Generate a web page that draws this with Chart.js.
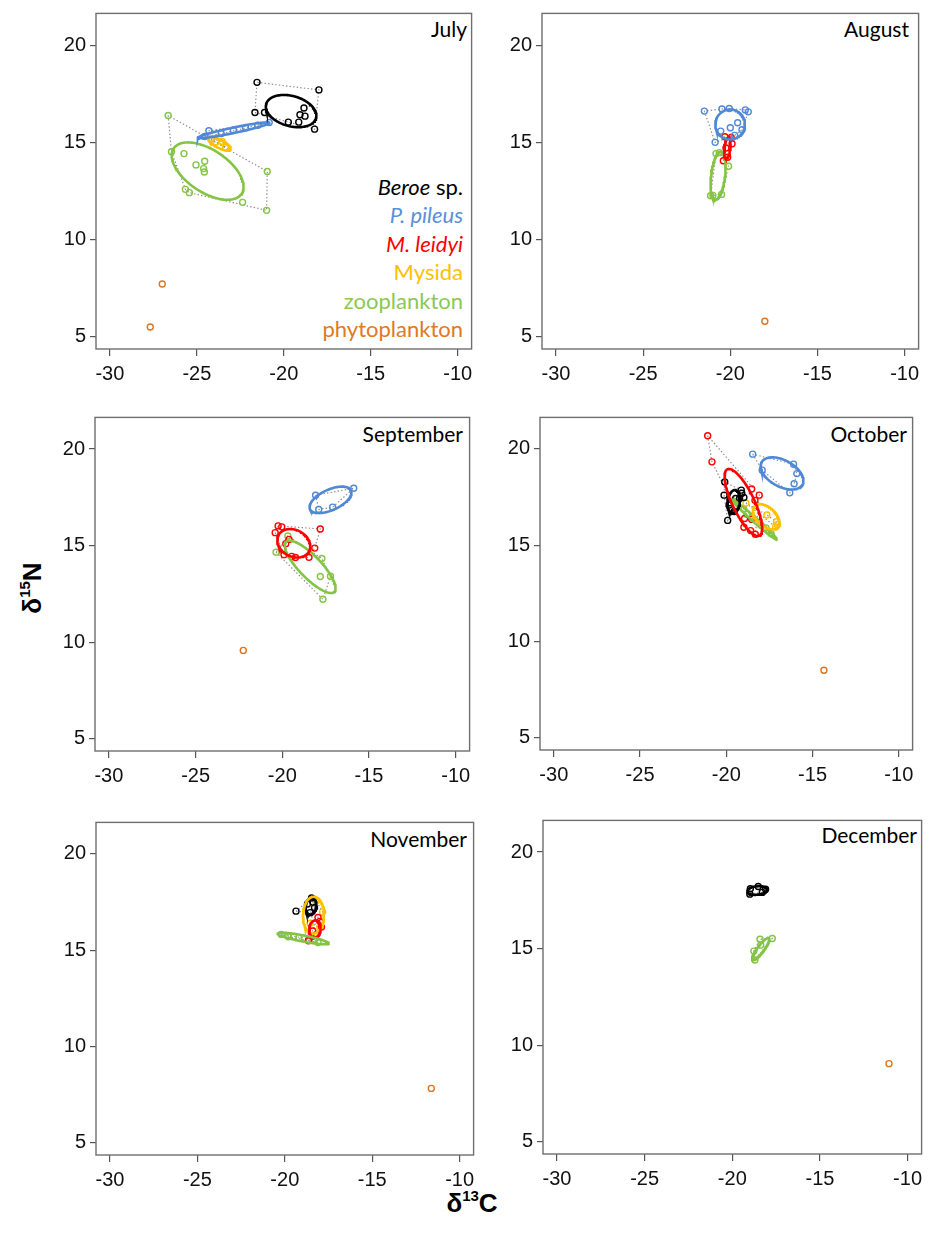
<!DOCTYPE html>
<html>
<head>
<meta charset="utf-8">
<script src="https://cdn.jsdelivr.net/npm/chart.js@4.4.0/dist/chart.umd.min.js"></script>
<style>
  body { margin: 0; background: #fff; width: 933px; height: 1235px; position: relative; overflow: hidden; font-family: "Liberation Sans", Arial, sans-serif; }
  canvas { position: absolute; }
  .month { position: absolute; font-family: Lato, sans-serif; font-size: 21px; line-height: 24px; color: #000; white-space: nowrap; }
  #legend { position: absolute; right: 470px; top: 173px; font-family: Lato, sans-serif; font-size: 22px; line-height: 28.4px; text-align: right; white-space: nowrap; }
  .axtitle { position: absolute; width: 120px; height: 34px; line-height: 34px; text-align: center; font-weight: bold; font-size: 26px; color: #000; }
  .axtitle sup { font-size: 15px; vertical-align: 11px; line-height: 0; }
</style>
</head>
<body>
<div class="month" style="right:466px; top:17px">July</div>
<div class="month" style="right:24px; top:17px">August</div>
<div class="month" style="right:470px; top:422px">September</div>
<div class="month" style="right:26px; top:422px">October</div>
<div class="month" style="right:466px; top:827px">November</div>
<div class="month" style="right:16px; top:823px">December</div>
<div id="legend">
  <div style="color:#000"><i>Beroe</i> sp.</div>
  <div style="color:#5B8FD8"><i>P. pileus</i></div>
  <div style="color:#FF0000"><i>M. leidyi</i></div>
  <div style="color:#FFC000">Mysida</div>
  <div style="color:#8CC850">zooplankton</div>
  <div style="color:#DE7A22">phytoplankton</div>
</div>
<div class="axtitle" style="left:-28px; top:571px; transform:rotate(-90deg)">&delta;<sup>15</sup>N</div>
<div class="axtitle" style="left:412px; top:1186px">&delta;<sup>13</sup>C</div>

<script>
// axes
const xTicks = [-30, -25, -20, -15, -10];
const yTicks = [5, 10, 15, 20];
const xRange = [-30.8, -9.2];
const yRange = [4.36, 21.64];
const months = ['July', 'August', 'September', 'October', 'November', 'December'];

// July  (d13C, d15N)
const julBeroe = [[-21.54,18.09],[-17.98,17.70],[-21.66,16.54],[-21.11,16.54],[-18.84,16.77],[-19.07,16.42],[-18.78,16.35],[-19.74,16.04],[-19.14,16.04],[-18.23,15.68]];
const julPileus = [[-24.31,15.60],[-24.55,15.30],[-23.6,15.45],[-22.9,15.62],[-22.2,15.75],[-21.5,15.88],[-20.84,16.02]];
const julMysida = [[-24.2,15.19],[-23.9,15.02],[-23.54,15.05],[-23.35,14.73]];
const julZoo = [[-26.65,16.38],[-26.46,14.52],[-25.74,14.42],[-25.05,13.84],[-24.55,14.03],[-24.61,13.65],[-24.57,13.47],[-25.66,12.58],[-25.43,12.41],[-22.37,11.91],[-20.95,13.50],[-20.99,11.50]];
const julPhyto = [[-26.99,7.71],[-27.68,5.49]];
// standard ellipses: group, centre x, centre y, semi-major, semi-minor, angle (deg)
const julSEA = [['beroe',-19.58,16.61,1.48,0.78,-13],['pileus',-22.89,15.62,2.09,0.14,10.6],['mysida',-23.70,14.93,0.7,0.22,-25],['zoo',-24.38,13.52,2.28,1.12,-29]];

// August
const augPileus = [[-21.49,16.61],[-20.48,16.72],[-20.06,16.74],[-19.14,16.67],[-18.97,16.57],[-19.58,16.01],[-20.0,15.75],[-20.55,15.58],[-19.33,15.65],[-19.75,15.36],[-20.87,15.0]];
const augLeidyi = [[-20.31,15.29],[-19.95,15.25],[-19.9,14.93],[-20.25,14.71],[-20.15,14.23],[-20.4,14.05]];
const augZoo = [[-20.82,14.42],[-20.63,14.47],[-20.1,13.77],[-21.13,12.25],[-21.0,12.27],[-20.5,12.32]];
const augPhyto = [[-18.02,5.79]];
const augSEA = [['pileus',-20.01,15.92,0.85,0.77,0],['leidyi',-20.17,14.72,0.56,0.17,82],['zoo',-20.70,13.29,1.25,0.4,82]];

// September
const sepPileus = [[-18.08,17.61],[-15.88,17.97],[-17.90,16.87],[-17.10,16.99]];
const sepLeidyi = [[-20.24,16.02],[-20.03,15.97],[-20.41,15.67],[-17.81,15.86],[-19.61,15.32],[-19.8,15.1],[-18.13,14.87],[-19.9,14.53],[-19.45,14.44],[-19.24,14.38],[-18.46,14.39]];
const sepZoo = [[-19.68,15.50],[-20.36,14.66],[-17.72,14.33],[-17.81,13.40],[-17.22,13.41],[-17.66,12.22]];
const sepPhyto = [[-22.25,9.57]];
const sepSEA = [['pileus',-17.22,17.37,1.28,0.54,21.4],['leidyi',-19.34,15.12,0.98,0.7,-20],['zoo',-18.39,13.90,1.9,0.6,-42.3]];

// October
const octBeroe = [[-20.09,18.28],[-20.13,17.60],[-19.92,16.29],[-19.13,17.86],[-18.98,17.48],[-19.23,17.43],[-19.84,17.09],[-19.46,17.43],[-19.75,16.91],[-19.55,16.75],[-19.1,17.7]];
const octPileus = [[-18.47,19.73],[-17.92,18.90],[-16.10,19.21],[-15.91,18.72],[-16.07,18.19],[-16.32,17.72]];
const octLeidyi = [[-21.08,20.69],[-20.83,19.33],[-18.53,17.92],[-18.09,17.60],[-18.34,17.33],[-18.53,16.34],[-18.94,16.39],[-18.98,15.93],[-18.59,15.76],[-18.32,15.57]];
const octMysida = [[-18.86,17.19],[-17.65,16.57],[-17.09,16.22],[-17.03,16.08],[-17.14,15.95]];
const octZoo = [[-19.6,17.3],[-19.0,16.9],[-18.8,16.6],[-18.5,16.45],[-18.0,16.05],[-17.7,15.9],[-17.4,15.6]];
const octPhyto = [[-14.34,8.50]];
const octSEA = [['pileus',-16.77,18.73,1.32,0.70,-24.1],['leidyi',-19.01,17.22,1.96,0.62,-61.2],['beroe',-19.57,17.27,0.6,0.36,80],['mysida',-17.69,16.48,0.87,0.51,-35.6],['zoo',-18.37,16.33,1.64,0.12,-38.6]];

// November
const novBeroe = [[-19.36,17.03],[-18.47,17.71],[-18.7,17.4],[-18.3,17.2],[-18.55,16.95],[-18.4,17.5]];
const novLeidyi = [[-18.65,15.49],[-18.1,16.7],[-17.9,16.2],[-18.4,16.0],[-18.2,15.8],[-18.0,16.5]];
const novMysida = [[-17.84,16.99],[-18.2,17.55],[-18.55,16.4],[-18.0,16.2]];
const novZoo = [[-20.2,15.82],[-19.8,15.7],[-19.5,15.72],[-18.9,15.62],[-18.3,15.55],[-18.1,15.4]];
const novPhyto = [[-11.62,7.82]];
const novSEA = [['zoo',-18.95,15.61,1.48,0.16,-10],['leidyi',-18.28,16.1,0.45,0.33,85],['mysida',-18.36,16.82,0.96,0.6,88],['beroe',-18.5,17.3,0.45,0.3,80]];

// December
const decBeroe = [[-19.0,17.82],[-18.52,18.22],[-18.1,18.08],[-18.97,18.1],[-18.29,17.91]];
const decZoo = [[-18.71,14.41],[-18.42,15.48],[-17.72,15.52],[-18.38,15.18],[-18.77,14.87]];
const decPhyto = [[-11.06,9.04]];
const decSEA = [['beroe',-18.58,18.01,0.57,0.22,5],['zoo',-18.38,14.98,0.74,0.18,50]];

const groupColors = { beroe: '#000000', pileus: '#4F88D6', leidyi: '#FF0000', mysida: '#FFC000', zoo: '#84C444', phyto: '#DC7420' };

// plot boxes on the page: left, top, right, bottom
const panels = [
  { box: [96, 11, 473, 349], groups: { beroe: julBeroe, pileus: julPileus, mysida: julMysida, zoo: julZoo, phyto: julPhyto }, sea: julSEA },
  { box: [542, 11, 920, 349], groups: { pileus: augPileus, leidyi: augLeidyi, zoo: augZoo, phyto: augPhyto }, sea: augSEA },
  { box: [95, 415, 471, 751], groups: { pileus: sepPileus, leidyi: sepLeidyi, zoo: sepZoo, phyto: sepPhyto }, sea: sepSEA },
  { box: [540, 415, 914, 750], groups: { beroe: octBeroe, pileus: octPileus, leidyi: octLeidyi, mysida: octMysida, zoo: octZoo, phyto: octPhyto }, sea: octSEA },
  { box: [96, 820, 475, 1155], groups: { beroe: novBeroe, leidyi: novLeidyi, mysida: novMysida, zoo: novZoo, phyto: novPhyto }, sea: novSEA },
  { box: [543, 818, 923, 1154], groups: { beroe: decBeroe, zoo: decZoo, phyto: decPhyto }, sea: decSEA }
];

// outline of a standard ellipse
function ellipsePath(cx, cy, a, b, deg) {
  const t = deg * Math.PI / 180, pts = [];
  for (let i = 0; i <= 120; i++) {
    const s = i / 120 * 2 * Math.PI;
    pts.push({
      x: cx + a * Math.cos(s) * Math.cos(t) - b * Math.sin(s) * Math.sin(t),
      y: cy + a * Math.cos(s) * Math.sin(t) + b * Math.sin(s) * Math.cos(t)
    });
  }
  return pts;
}

// convex hull (monotone chain), closed
function hull(pts) {
  const p = pts.map(([x, y]) => ({ x, y })).sort((a, b) => a.x - b.x || a.y - b.y);
  const cross = (o, a, b) => (a.x - o.x) * (b.y - o.y) - (a.y - o.y) * (b.x - o.x);
  const lo = [], up = [];
  for (const q of p) { while (lo.length >= 2 && cross(lo[lo.length - 2], lo[lo.length - 1], q) <= 0) lo.pop(); lo.push(q); }
  for (const q of p.slice().reverse()) { while (up.length >= 2 && cross(up[up.length - 2], up[up.length - 1], q) <= 0) up.pop(); up.push(q); }
  lo.pop(); up.pop();
  const h = lo.concat(up);
  h.push(h[0]);
  return h;
}

const boxPlugin = {
  id: 'box',
  afterDraw(chart) {
    const { ctx, chartArea: a } = chart;
    ctx.save();
    ctx.strokeStyle = '#6e6e6e';
    ctx.lineWidth = 1.4;
    ctx.strokeRect(a.left, a.top, a.right - a.left, a.bottom - a.top);
    ctx.restore();
  }
};

const AXW = 52, AXH = 48, PADT = 3, PADR = 4;

panels.forEach((p, idx) => {
  const [L, T, R, B] = p.box;
  const cv = document.createElement('canvas');
  const w = R - L + AXW + PADR, h = B - T + PADT + AXH;
  cv.width = w; cv.height = h;
  cv.style.left = (L - AXW) + 'px';
  cv.style.top = (T - PADT) + 'px';
  cv.style.width = w + 'px'; cv.style.height = h + 'px';
  cv.setAttribute('aria-label', months[idx]);
  document.body.appendChild(cv);

  const datasets = [];
  Object.entries(p.groups).forEach(([k, pts]) => {
    datasets.push({
      data: pts.map(([x, y]) => ({ x, y })),
      showLine: false, pointRadius: 3, pointBorderWidth: 1.4,
      pointBorderColor: groupColors[k], pointBackgroundColor: 'rgba(0,0,0,0)', order: 1
    });
    if (pts.length >= 3) {
      datasets.push({
        data: hull(pts), showLine: true, borderColor: '#8c8c8c', borderWidth: 1.2,
        borderDash: [1.4, 2.2], pointRadius: 0, tension: 0, order: 2
      });
    }
  });
  p.sea.forEach(([k, cx, cy, a, b, deg]) => {
    datasets.push({
      data: ellipsePath(cx, cy, a, b, deg), showLine: true, borderColor: groupColors[k],
      borderWidth: 2.6, pointRadius: 0, tension: 0, order: 0
    });
  });

  new Chart(cv, {
    type: 'scatter',
    data: { datasets },
    plugins: [boxPlugin],
    options: {
      responsive: false, animation: false, devicePixelRatio: 1, events: [],
      layout: { padding: { top: PADT, right: PADR, left: 0, bottom: 0 } },
      plugins: { legend: { display: false }, tooltip: { enabled: false } },
      scales: {
        x: {
          type: 'linear', min: xRange[0], max: xRange[1],
          afterBuildTicks: s => { s.ticks = xTicks.map(v => ({ value: v })); },
          afterFit: s => { s.height = AXH; s.paddingLeft = 0; s.paddingRight = 0; },
          border: { display: false },
          grid: { display: true, drawOnChartArea: false, drawTicks: true, tickLength: 7, color: '#555', lineWidth: 1.2 },
          ticks: { color: '#111', padding: 6, maxRotation: 0, autoSkip: false, font: { family: 'Liberation Sans', size: 20 } }
        },
        y: {
          type: 'linear', min: yRange[0], max: yRange[1],
          afterBuildTicks: s => { s.ticks = yTicks.map(v => ({ value: v })); },
          afterFit: s => { s.width = AXW; s.paddingTop = 0; s.paddingBottom = 0; },
          border: { display: false },
          grid: { display: true, drawOnChartArea: false, drawTicks: true, tickLength: 6, color: '#555', lineWidth: 1.2 },
          ticks: { color: '#111', padding: 4, autoSkip: false, font: { family: 'Liberation Sans', size: 20 } }
        }
      }
    }
  });
});
</script>
</body>
</html>
